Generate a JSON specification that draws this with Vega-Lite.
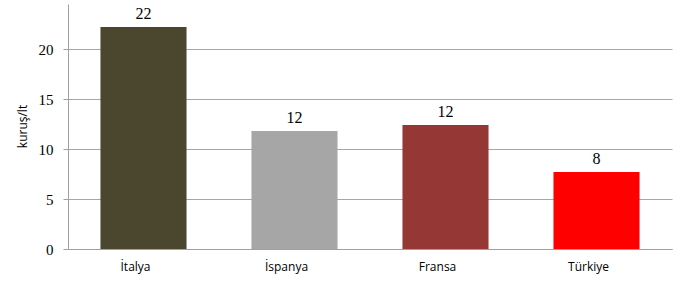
{
  "$schema": "https://vega.github.io/schema/vega-lite/v6.json",
  "autosize": "none",
  "width": 604,
  "height": 245,
  "padding": {"left": 68, "top": 4, "right": 7, "bottom": 40},
  "background": "white",
  "config": {"view": {"stroke": null}},
  "data": {
    "values": [
      {"country": "İtalya", "value": 22.2, "label": "22", "color": "#4B462E"},
      {"country": "İspanya", "value": 11.8, "label": "12", "color": "#A6A6A6"},
      {"country": "Fransa", "value": 12.4, "label": "12", "color": "#953735"},
      {"country": "Türkiye", "value": 7.7, "label": "8", "color": "#FF0000"}
    ]
  },
  "encoding": {
    "x": {
      "field": "country", "type": "nominal", "sort": null,
      "scale": {"paddingInner": 0.43, "paddingOuter": 0.215},
      "axis": {
        "title": null, "labelAngle": 0, "ticks": false, "domainColor": "#A0A0A0",
        "labelFont": "Open Sans", "labelFontSize": 12, "labelColor": "#000000", "labelPadding": 12,
        "labelOffset": -8
      }
    },
    "y": {
      "field": "value", "type": "quantitative",
      "scale": {"domain": [0, 24.5], "nice": false},
      "axis": {
        "values": [0, 5, 10, 15, 20], "title": "kuruş/lt",
        "titleFont": "Open Sans", "titleFontSize": 12, "titleFontWeight": "normal", "titleColor": "#000000",
        "titleX": -46, "titleY": 122, "titleAngle": 270, "titleAlign": "center", "titleBaseline": "middle",
        "labelFont": "Liberation Serif", "labelFontSize": 15, "labelColor": "#000000", "labelPadding": 10,
        "tickColor": "#A0A0A0", "tickSize": 5, "domainColor": "#A0A0A0",
        "gridColor": "#A6A6A6", "gridWidth": 1
      }
    }
  },
  "layer": [
    {
      "mark": {"type": "bar"},
      "encoding": {"color": {"field": "color", "type": "nominal", "scale": null}}
    },
    {
      "mark": {"type": "text", "baseline": "bottom", "dy": -5, "font": "Liberation Serif", "fontSize": 16, "color": "#000000"},
      "encoding": {"text": {"field": "label"}}
    }
  ]
}
